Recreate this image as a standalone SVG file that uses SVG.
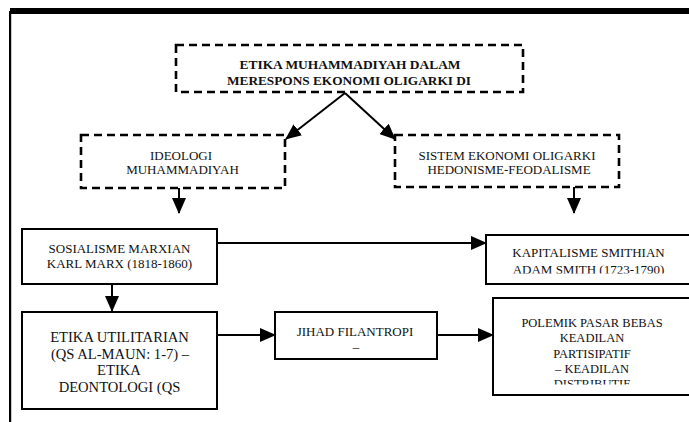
<svg xmlns="http://www.w3.org/2000/svg" width="689" height="422" viewBox="0 0 689 422">
<style>
  .dash { fill: #fff; stroke: #000; stroke-width: 2.6; stroke-dasharray: 8 5; }
  .box { fill: #fff; stroke: #000; stroke-width: 2; }
  .t { font-family: "Liberation Serif", "Times New Roman", serif; font-size: 13px; fill: #111; text-anchor: middle; }
  .b { font-weight: bold; font-size: 13.4px; }
  .big { font-size: 14.6px; }
  .mid { font-size: 12.5px; }
  .conn { stroke: #000; stroke-width: 2; fill: none; marker-end: url(#ah); }
</style>
<defs>
  <marker id="ah" markerUnits="userSpaceOnUse" viewBox="0 0 16 14" refX="15" refY="7" markerWidth="16" markerHeight="14" orient="auto">
    <path d="M0,0 L16,7 L0,14 z" fill="#000"/>
  </marker>
  <clipPath id="clipKap"><rect x="486" y="236" width="203" height="37.5"/></clipPath>
  <clipPath id="clipPol"><rect x="493" y="299" width="196" height="85.5"/></clipPath>
</defs>
<rect width="689" height="422" fill="#fff"/>
<g id="frame">
  <rect x="10" y="8" width="679" height="6" fill="#000"/>
  <rect x="9" y="11" width="2.2" height="411" fill="#000"/>
</g>
<g id="connectors">
  <line class="conn" x1="345" y1="93" x2="286" y2="139"/>
  <line class="conn" x1="345" y1="93" x2="395" y2="139"/>
  <line class="conn" x1="179" y1="188" x2="179" y2="213"/>
  <line class="conn" x1="574" y1="187" x2="574" y2="213"/>
  <line class="conn" x1="217" y1="243" x2="486" y2="243"/>
  <line class="conn" x1="112" y1="284" x2="112" y2="311"/>
  <line class="conn" x1="217" y1="335" x2="275" y2="335"/>
  <line class="conn" x1="437" y1="335" x2="493" y2="335"/>
</g>
<g id="top">
  <rect class="dash" x="176" y="45" width="347" height="47"/>
  <text class="t b" x="350" y="69" textLength="221" lengthAdjust="spacingAndGlyphs">ETIKA MUHAMMADIYAH DALAM</text>
  <text class="t b" x="349" y="85" textLength="244" lengthAdjust="spacingAndGlyphs">MERESPONS EKONOMI OLIGARKI DI</text>
</g>
<g id="ideologi">
  <rect class="dash" x="81" y="135" width="204" height="53"/>
  <text class="t" x="181" y="160">IDEOLOGI</text>
  <text class="t" x="182.5" y="174">MUHAMMADIYAH</text>
</g>
<g id="sistem">
  <rect class="dash" x="395" y="135" width="224" height="52"/>
  <text class="t" x="507" y="160">SISTEM EKONOMI OLIGARKI</text>
  <text class="t" x="509" y="174">HEDONISME-FEODALISME</text>
</g>
<g id="sosialisme">
  <rect class="box" x="22" y="229" width="195" height="55"/>
  <text class="t" x="119.5" y="253">SOSIALISME MARXIAN</text>
  <text class="t" x="119.5" y="268">KARL MARX (1818-1860)</text>
</g>
<g id="kapitalisme">
  <rect class="box" x="486" y="235" width="210" height="49"/>
  <g clip-path="url(#clipKap)">
    <text class="t" x="588.5" y="257">KAPITALISME SMITHIAN</text>
    <text class="t" x="588.5" y="274">ADAM SMITH (1723-1790)</text>
  </g>
</g>
<g id="etika">
  <rect class="box" x="22" y="312" width="195" height="97"/>
  <text class="t big" x="119.5" y="342">ETIKA UTILITARIAN</text>
  <text class="t big" x="120" y="358.5">(QS AL-MAUN: 1-7) –</text>
  <text class="t big" x="119" y="375">ETIKA</text>
  <text class="t big" x="119.5" y="392">DEONTOLOGI (QS</text>
</g>
<g id="jihad">
  <rect class="box" x="275" y="312" width="162" height="47"/>
  <text class="t" x="355" y="336">JIHAD FILANTROPI</text>
  <text class="t" x="356" y="351">–</text>
</g>
<g id="polemik">
  <rect class="box" x="493" y="298" width="203" height="97"/>
  <g clip-path="url(#clipPol)">
    <text class="t mid" x="592" y="327">POLEMIK PASAR BEBAS</text>
    <text class="t mid" x="592" y="342.3">KEADILAN</text>
    <text class="t mid" x="592" y="357.7">PARTISIPATIF</text>
    <text class="t mid" x="592" y="373">– KEADILAN</text>
    <text class="t mid" x="592" y="388.4">DISTRIBUTIF</text>
  </g>
</g>
</svg>
